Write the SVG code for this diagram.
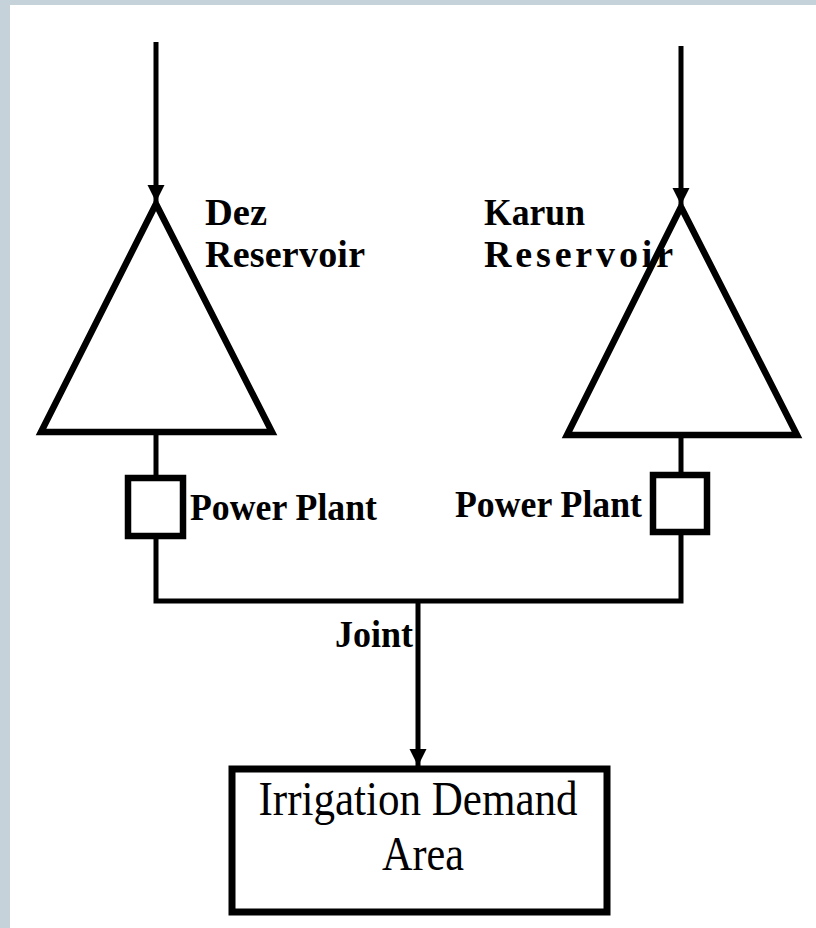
<svg xmlns="http://www.w3.org/2000/svg" width="816" height="928" viewBox="0 0 816 928">
<defs>
<style>
.ln{stroke:#000;stroke-width:5;fill:none}
.shape{stroke:#000;stroke-width:6.5;fill:#fff}
.lbl{font-family:"Liberation Serif","Times New Roman",serif;font-weight:bold;font-size:38px;fill:#000}
.big{font-family:"Liberation Serif","Times New Roman",serif;font-size:48px;fill:#000}
</style>
<marker id="ah" viewBox="0 0 10 10" refX="10" refY="5" markerWidth="3.4" markerHeight="3.7" orient="auto" markerUnits="strokeWidth">
<path d="M0,0 L10,5 L0,10 z" fill="#000"/>
</marker>
</defs>
<rect x="0" y="0" width="816" height="928" fill="#c6d2da"/>
<rect x="10" y="5" width="806" height="923" fill="#fff"/>
<g id="connectors">
<line class="ln" x1="156" y1="42" x2="156" y2="202" marker-end="url(#ah)"/>
<line class="ln" x1="681" y1="46" x2="681" y2="205" marker-end="url(#ah)"/>
<line class="ln" x1="156" y1="432" x2="156" y2="476"/>
<line class="ln" x1="681" y1="435" x2="681" y2="473"/>
<polyline class="ln" points="156,536 156,601 681,601 681,532"/>
<line class="ln" x1="418" y1="601" x2="418" y2="766" marker-end="url(#ah)"/>
</g>
<g id="dez-reservoir">
<polygon class="shape" points="156,204 41,432 272,432"/>
<text class="lbl" x="205" y="225" textLength="62" lengthAdjust="spacingAndGlyphs">Dez</text>
<text class="lbl" x="205" y="267" textLength="160" lengthAdjust="spacing">Reservoir</text>
</g>
<g id="karun-reservoir">
<polygon class="shape" points="681,207 567,435 797,435"/>
<text class="lbl" x="484" y="225" textLength="101" lengthAdjust="spacingAndGlyphs">Karun</text>
<text class="lbl" x="484" y="267" textLength="189" lengthAdjust="spacing">Reservoir</text>
</g>
<g id="dez-power-plant">
<rect class="shape" x="128" y="478" width="55" height="58"/>
<text class="lbl" x="190" y="520" textLength="187" lengthAdjust="spacingAndGlyphs">Power Plant</text>
</g>
<g id="karun-power-plant">
<rect class="shape" x="653" y="475" width="54" height="57"/>
<text class="lbl" x="455" y="517" textLength="187" lengthAdjust="spacingAndGlyphs">Power Plant</text>
</g>
<g id="joint">
<text class="lbl" x="335" y="647" textLength="78" lengthAdjust="spacingAndGlyphs">Joint</text>
</g>
<g id="irrigation-demand-area">
<rect x="232" y="769" width="375" height="143" fill="#fff" stroke="#000" stroke-width="7"/>
<text class="big" x="418" y="815" text-anchor="middle" textLength="319" lengthAdjust="spacingAndGlyphs">Irrigation Demand</text>
<text class="big" x="423" y="870" text-anchor="middle" textLength="82" lengthAdjust="spacingAndGlyphs">Area</text>
</g>
</svg>
